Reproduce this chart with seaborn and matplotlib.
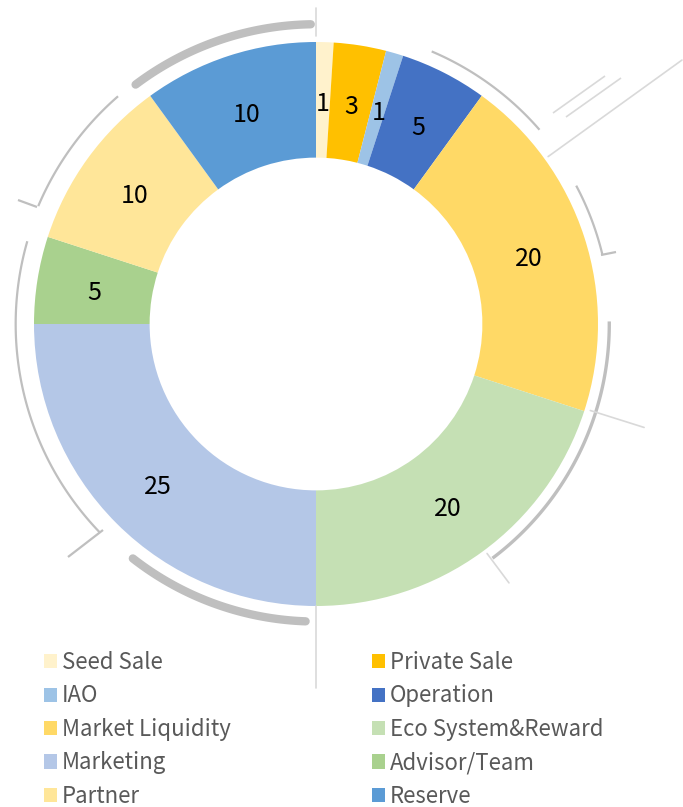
import numpy as np
import matplotlib.pyplot as plt
import seaborn as sns
from matplotlib.patches import Patch

# dati della torta
categorie = ["Seed Sale", "Private Sale", "IAO", "Operation", "Market Liquidity",
             "Eco System&Reward", "Marketing", "Advisor/Team", "Partner", "Reserve"]
valori = [1, 3, 1, 5, 20, 20, 25, 5, 10, 10]
colori = ["#FFF2CC", "#FFC000", "#9DC3E6", "#4472C4", "#FFD966",
          "#C5E0B4", "#B4C7E7", "#A9D18E", "#FFE699", "#5B9BD5"]

sns.set_theme(style="white")
plt.rcParams['font.family'] = ['Noto Sans CJK KR', 'DejaVu Sans']

W, H = 683, 807
cx, cy, R = 316, 324, 282  # centro e raggio in pixel

fig = plt.figure(figsize=(W / 100, H / 100), dpi=100)
ax = fig.add_axes([0, 0, 1, 1])

wedges, testi = ax.pie(valori, colors=colori, startangle=90, counterclock=False,
                       labels=[str(v) for v in valori], labeldistance=0.795,
                       wedgeprops=dict(width=0.41, linewidth=0),
                       textprops=dict(fontsize=18, color="black"))
for t in testi:
    t.set_ha("center")
    t.set_va("center")
    x, y = t.get_position()
    t.set_position((x, y - 4 / R))  # leggero abbassamento come nell'originale

ax.set_xlim(-cx / R, (W - cx) / R)
ax.set_ylim(-(H - cy) / R, cy / R)
ax.set_aspect("auto")
ax.axis("off")

# decorazioni grigie attorno alla ciambella
grigio = "#BFBFBF"
chiaro = "#D9D9D9"


def arco(r, t1, t2, lw, col=grigio, cap="butt"):
    t = np.radians(np.linspace(t1, t2, 100))
    ax.plot(r * np.cos(t), r * np.sin(t), color=col, lw=lw, solid_capstyle=cap)


def raggio(ang, r1, r2, lw=1.2, col=chiaro):
    a = np.radians(ang)
    ax.plot([r1 * np.cos(a), r2 * np.cos(a)], [r1 * np.sin(a), r2 * np.sin(a)],
            color=col, lw=lw)


def linea(p1, p2, lw=1.4, col=grigio):
    x1, y1 = (p1[0] - cx) / R, (cy - p1[1]) / R
    x2, y2 = (p2[0] - cx) / R, (cy - p2[1]) / R
    ax.plot([x1, x2], [y1, y2], color=col, lw=lw, solid_capstyle="butt")


arco(1.063, 91, 127, 6, cap="round")
arco(1.055, 232, 268, 6, cap="round")
arco(1.07, 131, 157, 1.6)
linea((37, 207), (18, 200), 1.6)
arco(1.065, 164, 224, 1.6)
linea((103, 530), (68, 557), 1.6)
arco(1.05, 41, 67, 1.6)
arco(1.045, 13.5, 28, 1.6)
linea((601, 255), (616, 252), 1.6)
arco(1.04, -53, 0.5, 2.4)

raggio(35.8, 1.015, 1.6)
raggio(-17.5, 1.02, 1.22)
raggio(-53.3, 1.015, 1.145)
raggio(90, 1.02, 1.12)
raggio(270, 1.0, 1.29)
linea((553, 113), (605, 76), 1.2, chiaro)
linea((566, 117), (621, 78), 1.2, chiaro)

# legenda in due colonne
col1 = [0, 2, 4, 6, 8]
col2 = [1, 3, 5, 7, 9]
for idx, x0 in [(col1, 44), (col2, 372)]:
    handles = [Patch(facecolor=colori[i], edgecolor="none") for i in idx]
    fig.legend(handles, [categorie[i] for i in idx], loc="upper left",
               bbox_to_anchor=(x0 / W, 1 - 651 / H), frameon=False,
               fontsize=16, labelcolor="#595959", handlelength=0.6,
               handleheight=0.6, handletextpad=0.2, labelspacing=0.47,
               borderaxespad=0, borderpad=0)

fig.savefig("out.png", dpi=100)
